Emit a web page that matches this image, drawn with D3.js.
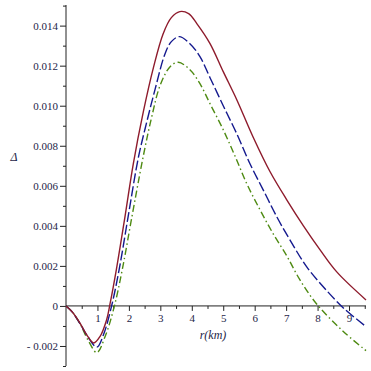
<!DOCTYPE html>
<html><head><meta charset="utf-8">
<script src="https://cdn.jsdelivr.net/npm/d3@7"></script>
<style>html,body{margin:0;padding:0;background:#fff;}svg{display:block;}</style>
</head><body>
<svg id="chart" width="371" height="371"></svg>
<script>
// Data
const rRed   = [0, 0.2, 0.45, 0.66, 0.88, 1.08, 1.29, 1.4, 1.6, 1.88, 2.14, 2.46, 2.78, 3.09, 3.35, 3.62, 3.9, 4.16, 4.58, 5.0, 5.43, 5.96, 6.49, 7.02, 7.55, 8.08, 8.61, 9.54];
const vRed   = [0, -0.0003, -0.00087, -0.00145, -0.00185, -0.00153, -0.0007, 0.0001, 0.0018, 0.0045, 0.0071, 0.0097, 0.0119, 0.0136, 0.0144, 0.0147, 0.0146, 0.0141, 0.0131, 0.0117, 0.0103, 0.0084, 0.0067, 0.0053, 0.0040, 0.0028, 0.0017, 0.0003];
const rBlue  = [0, 0.2, 0.45, 0.7, 0.98, 1.2, 1.45, 1.7, 1.98, 2.30, 2.57, 2.83, 3.15, 3.35, 3.6, 3.94, 4.26, 4.58, 5.0, 5.43, 5.85, 6.27, 6.70, 7.12, 7.65, 8.18, 8.82, 9.54];
const vBlue  = [0, -0.0003, -0.0009, -0.00155, -0.00206, -0.0014, 0.0, 0.0019, 0.0045, 0.0074, 0.0092, 0.0108, 0.0126, 0.0132, 0.01345, 0.0131, 0.01245, 0.0114, 0.0100, 0.0086, 0.0071, 0.0058, 0.00446, 0.0033, 0.00196, 0.00096, -0.0001, -0.00103];
const rGreen = [0, 0.2, 0.45, 0.7, 0.98, 1.25, 1.54, 1.8, 2.09, 2.46, 2.72, 2.99, 3.31, 3.57, 3.94, 4.26, 4.58, 5.0, 5.37, 5.75, 6.17, 6.59, 7.02, 7.44, 7.97, 8.8, 9.54];
const vGreen = [0, -0.0003, -0.0009, -0.0017, -0.00233, -0.0015, 0.0, 0.0019, 0.0044, 0.0075, 0.0094, 0.0110, 0.01195, 0.01217, 0.0118, 0.0111, 0.0101, 0.0088, 0.0075, 0.0061, 0.0048, 0.0036, 0.0025, 0.0013, 0.0001, -0.00125, -0.00223];

const xTicks = [1, 2, 3, 4, 5, 6, 7, 8, 9];
const xMinorTicks = [0.5, 1.5, 2.5, 3.5, 4.5, 5.5, 6.5, 7.5, 8.5, 9.5];
const yTicks = [-0.002, 0, 0.002, 0.004, 0.006, 0.008, 0.010, 0.012, 0.014];
const yTickLabels = ["- 0.002", "0", "0.002", "0.004", "0.006", "0.008", "0.010", "0.012", "0.014"];
const yMinorTicks = [-0.003, -0.001, 0.001, 0.003, 0.005, 0.007, 0.009, 0.011, 0.013, 0.015];

const svg = d3.select("#chart");
const x = d3.scaleLinear().domain([0, 9.54]).range([66, 366]);
const y = d3.scaleLinear().domain([-0.003, 0.01503]).range([366, 5]);
const axisColor = "#222";
const labelColor = "#1e2548";
const font = "'Liberation Serif', 'Times New Roman', 'DejaVu Serif', serif";

// Y axis
const yAxis = svg.append("g").attr("transform", `translate(${x(0)},0)`)
  .call(d3.axisLeft(y).tickValues(yTicks).tickSize(6).tickPadding(2)
    .tickFormat((d, i) => yTickLabels[i]));
yAxis.select(".domain").attr("stroke", axisColor).attr("d", `M0,${y(-0.003)}V${y(0.01503)}`);
yAxis.selectAll(".tick line").attr("stroke", axisColor);
yAxis.selectAll(".tick text").attr("fill", labelColor).style("font-family", font).style("font-size", "11px");
const yMinor = svg.append("g").attr("transform", `translate(${x(0)},0)`)
  .call(d3.axisLeft(y).tickValues(yMinorTicks).tickSize(3).tickFormat(""));
yMinor.select(".domain").remove();
yMinor.selectAll(".tick line").attr("stroke", axisColor);

// X axis at y=0
const xAxis = svg.append("g").attr("transform", `translate(0,${y(0)})`)
  .call(d3.axisBottom(x).tickValues(xTicks).tickSize(5).tickPadding(3).tickFormat(d3.format("d")));
xAxis.select(".domain").attr("stroke", axisColor).attr("d", `M${x(0)},0H${x(9.54)}`);
xAxis.selectAll(".tick line").attr("stroke", axisColor);
xAxis.selectAll(".tick text").attr("fill", labelColor).style("font-family", font).style("font-size", "11px");
const xMinor = svg.append("g").attr("transform", `translate(0,${y(0)})`)
  .call(d3.axisBottom(x).tickValues(xMinorTicks).tickSize(3).tickFormat(""));
xMinor.select(".domain").remove();
xMinor.selectAll(".tick line").attr("stroke", axisColor);

// Curves
const line = d3.line().x(d => x(d[0])).y(d => y(d[1])).curve(d3.curveCatmullRom.alpha(0.5));
function draw(rs, vs, color, dash) {
  svg.append("path").datum(rs.map((r, i) => [r, vs[i]]))
    .attr("d", line).attr("fill", "none").attr("stroke", color)
    .attr("stroke-width", 1.4).attr("stroke-dasharray", dash);
}
draw(rGreen, vGreen, "#4e8a12", "7,3,1.5,3");
draw(rBlue, vBlue, "#14198e", "10,3");
draw(rRed, vRed, "#8e1b2c", null);

// Axis titles
svg.append("text").attr("x", 14).attr("y", 161).attr("text-anchor", "middle")
  .style("font-family", font).style("font-style", "italic").style("font-size", "12px")
  .attr("fill", labelColor).text("Δ");
svg.append("text").attr("x", 213).attr("y", 339).attr("text-anchor", "middle")
  .style("font-family", font).style("font-style", "italic").style("font-size", "12px")
  .attr("fill", labelColor).text("r(km)");
</script>
</body></html>
